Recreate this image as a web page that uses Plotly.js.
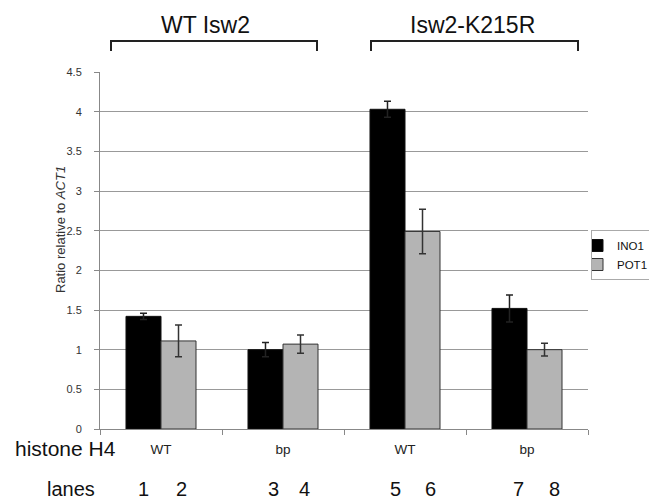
<!DOCTYPE html>
<html>
<head>
<meta charset="utf-8">
<script src="https://cdn.plot.ly/plotly-3.0.1.min.js"></script>
<style>html,body{margin:0;padding:0;background:#fff;}#chart{width:649px;height:500px;}</style>
</head>
<body>
<div id="chart"></div>
<script>
// categories (histone H4 per strain group)
var categories = ["WT ", "bp ", "WT", "bp"];
var categoryLabels = ["WT", "bp", "WT", "bp"];
// series values
var ino1 = [1.42, 1.00, 4.03, 1.52];
var ino1Err = [0.04, 0.09, 0.10, 0.17];
var pot1 = [1.11, 1.07, 2.49, 1.00];
var pot1Err = [0.20, 0.115, 0.28, 0.08];
// y tick labels
var yTickVals = [0, 0.5, 1, 1.5, 2, 2.5, 3, 3.5, 4, 4.5];
var yTickText = ["0", "0.5", "1", "1.5", "2", "2.5", "3", "3.5", "4", "4.5"];
// group and lane labels
var groups = ["WT Isw2", "Isw2-K215R"];
var lanes = ["1", "2", "3", "4", "5", "6", "7", "8"];

var FONT = "Liberation Sans, Arial, sans-serif";
var L = 100, R = 61, T = 72, B = 71, W = 649, H = 500;
var PW = W - L - R, PH = H - T - B;
function px(x) { return (x - L) / PW; }
function py(y) { return (H - B - y) / PH; }

var traces = [
  {
    type: "bar", name: "INO1", x: categories, y: ino1,
    marker: {color: "#000000", line: {color: "#111111", width: 1}},
    error_y: {type: "data", array: ino1Err, visible: true, color: "#222222", thickness: 1.5, width: 3.5}
  },
  {
    type: "bar", name: "POT1", x: categories, y: pot1,
    marker: {color: "#b4b4b4", line: {color: "#333333", width: 1}},
    error_y: {type: "data", array: pot1Err, visible: true, color: "#333333", thickness: 1.5, width: 3.5}
  }
];

var lanePx = [143, 181, 273, 304, 395, 430, 518, 554];
var annotations = [
  {text: groups[0], x: px(205), y: py(25), xref: "paper", yref: "paper", showarrow: false,
   xanchor: "center", yanchor: "middle", font: {family: FONT, size: 23, color: "#111"}},
  {text: groups[1], x: px(472), y: py(25), xref: "paper", yref: "paper", showarrow: false,
   xanchor: "center", yanchor: "middle", font: {family: FONT, size: 23, color: "#111"}},
  {text: "Ratio relative to <i>ACT1</i>", x: px(60), y: py(230), xref: "paper", yref: "paper", showarrow: false,
   textangle: -90, xanchor: "center", yanchor: "middle", font: {family: FONT, size: 13, color: "#333"}},
  {text: "histone H4", x: px(13), y: py(448), xref: "paper", yref: "paper", showarrow: false,
   xanchor: "left", yanchor: "middle", font: {family: FONT, size: 21, color: "#111"}},
  {text: "lanes", x: px(45), y: py(489), xref: "paper", yref: "paper", showarrow: false,
   xanchor: "left", yanchor: "middle", font: {family: FONT, size: 20, color: "#111"}}
];
lanes.forEach(function (t, i) {
  annotations.push({text: t, x: px(lanePx[i]), y: py(489), xref: "paper", yref: "paper", showarrow: false,
    xanchor: "center", yanchor: "middle", font: {family: FONT, size: 20, color: "#111"}});
});

function bracket(x0, x1) {
  return {type: "path", xref: "paper", yref: "paper",
    path: "M " + px(x0) + " " + py(51) + " L " + px(x0) + " " + py(41) + " L " + px(x1) + " " + py(41) + " L " + px(x1) + " " + py(51),
    line: {color: "#222", width: 2}};
}

var layout = {
  width: W, height: H,
  margin: {l: L, r: R, t: T, b: B, pad: 0, autoexpand: false},
  paper_bgcolor: "#fff", plot_bgcolor: "#fff",
  font: {family: FONT, color: "#222"},
  barmode: "group", bargap: 0.426, bargroupgap: 0,
  showlegend: true,
  legend: {x: px(591), y: py(230), xanchor: "left", yanchor: "top",
    bordercolor: "#aaa", borderwidth: 1, bgcolor: "#fff", indentation: -15,
    font: {family: FONT, size: 11.5, color: "#111"}, itemwidth: 30, tracegroupgap: 0},
  xaxis: {
    type: "category", tickmode: "array", tickvals: categories, ticktext: categoryLabels,
    tickson: "boundaries", ticks: "outside", ticklen: 5, tickcolor: "#888",
    showline: true, linecolor: "#888", linewidth: 1, showgrid: false,
    tickfont: {family: FONT, size: 13.5, color: "#222"}, ticklabelstandoff: 8,
    fixedrange: true
  },
  yaxis: {
    range: [0, 4.5], tickmode: "array", tickvals: yTickVals, ticktext: yTickText,
    ticks: "outside", ticklen: 5, tickcolor: "#888",
    showline: true, linecolor: "#888", linewidth: 1,
    showgrid: true, gridcolor: "#999", gridwidth: 1, zeroline: false,
    tickfont: {family: FONT, size: 11, color: "#333"}, ticklabelstandoff: 10,
    automargin: false, fixedrange: true
  },
  annotations: annotations,
  shapes: [bracket(111, 317), bracket(371, 578)]
};

Plotly.newPlot("chart", traces, layout, {displayModeBar: false, staticPlot: true});
</script>
</body>
</html>
